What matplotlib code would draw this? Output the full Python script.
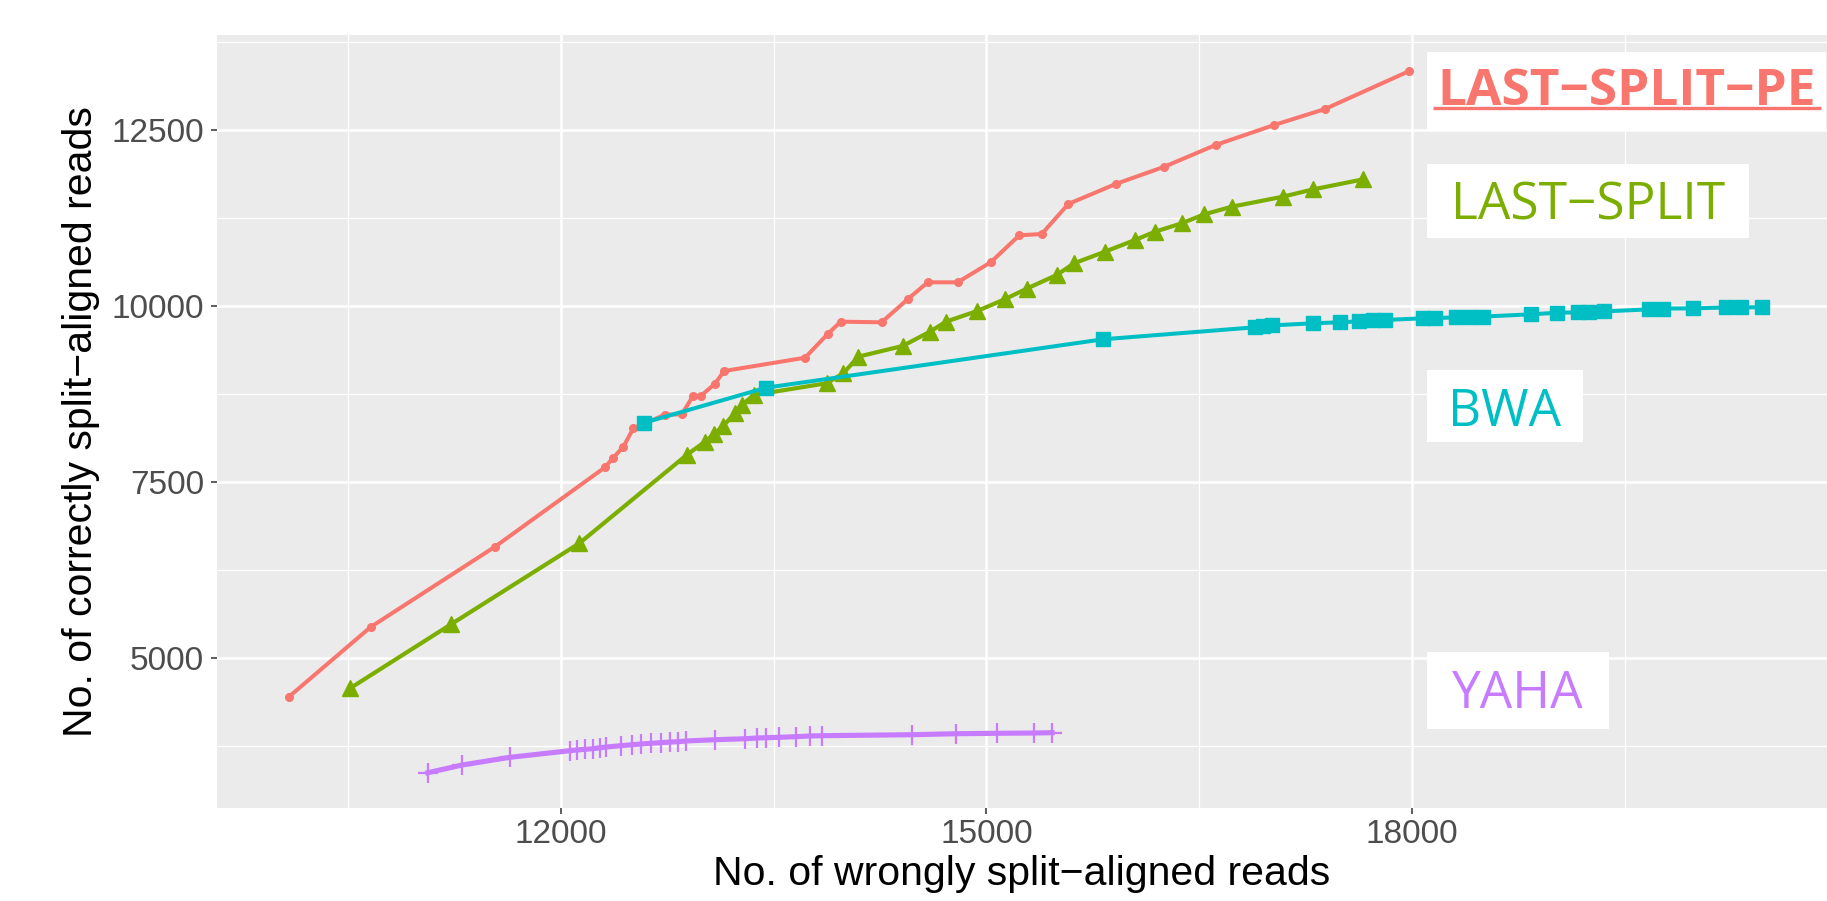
import matplotlib
matplotlib.use("Agg")
import matplotlib.pyplot as plt
from matplotlib.patches import Rectangle
from matplotlib.ticker import FixedLocator

# ---------------- data ----------------
pe_x = [10082, 10658, 11535, 12310, 12365, 12440, 12510, 12733, 12851, 12933, 12985,
        13086, 13150, 13721, 13881, 13972, 14261, 14449, 14586, 14797, 15030, 15232,
        15390, 15578, 15912, 16255, 16617, 17030, 17388, 17983]
pe_y = [4446, 5436, 6577, 7704, 7832, 7997, 8258, 8452, 8457, 8722, 8717,
        8892, 9072, 9261, 9598, 9773, 9764, 10099, 10332, 10332, 10616, 11000,
        11018, 11445, 11729, 11974, 12283, 12567, 12794, 13334]

ls_x = [10512, 11224, 12129, 12886, 13015, 13079, 13145, 13227, 13274, 13361, 13873,
        13991, 14097, 14410, 14602, 14715, 14936, 15131, 15284, 15496, 15618, 15836,
        16048, 16189, 16377, 16537, 16730, 17090, 17306, 17658]
ls_y = [4565, 5474, 6625, 7879, 8068, 8173, 8295, 8472, 8590, 8732, 8898,
        9040, 9276, 9428, 9631, 9773, 9925, 10093, 10242, 10436, 10602, 10767,
        10933, 11051, 11170, 11298, 11406, 11548, 11653, 11795]

bwa_x = [12587, 13446, 15824, 16894, 16953, 17012, 17306, 17494, 17630, 17729, 17811,
         18081, 18163, 18309, 18410, 18504, 18840, 19022, 19174, 19252, 19358, 19675,
         19774, 19986, 20214, 20321, 20467]
bwa_y = [8338, 8835, 9523, 9693, 9705, 9720, 9750, 9764, 9778, 9795, 9797,
         9821, 9823, 9835, 9840, 9846, 9877, 9900, 9905, 9917, 9919, 9948,
         9960, 9962, 9975, 9976, 9978]

yaha_x = [11060, 11304, 11640, 12063, 12111, 12171, 12228, 12275, 12317, 12421, 12499,
          12564, 12633, 12705, 12769, 12823, 12882, 13086, 13298, 13380, 13446, 13537,
          13655, 13756, 13838, 14476, 14786, 15077, 15336, 15463]
yaha_y = [3366, 3476, 3585, 3679, 3689, 3699, 3707, 3722, 3731, 3750, 3764,
          3774, 3784, 3793, 3802, 3807, 3817, 3835, 3849, 3859, 3864, 3869,
          3878, 3888, 3892, 3906, 3920, 3926, 3930, 3935]

x_ticks = [12000, 15000, 18000]
y_ticks = [5000, 7500, 10000, 12500]
x_minor = [10500, 13500, 16500, 19500]
y_minor = [3750, 6250, 8750, 11250, 13750]

labels = ["LAST\u2212SPLIT\u2212PE", "LAST\u2212SPLIT", "BWA", "YAHA"]
label_colors = ["#F8766D", "#7CAE00", "#00BFC4", "#C77CFF"]
# label boxes (data coords): left, right, bottom, top ; text baseline
box_left = 18107
box_right = [20921, 20378, 19207, 19391]
box_bottom = [12481, 10962, 8065, 3986]
box_top = [13603, 12013, 9087, 5080]
text_base = [12851, 11231, 8291, 4286]

# ---------------- figure ----------------
W, H = 1827, 901
fig = plt.figure(figsize=(W / 100, H / 100), dpi=100)
ax = fig.add_axes([217 / W, 1 - 808 / H, (W - 217) / W, (808 - 35) / H])
ax.set_facecolor("#EBEBEB")
for s in ax.spines.values():
    s.set_visible(False)

ax.set_xlim(9574, 20928)
ax.set_ylim(2865, 13845)

ax.xaxis.set_major_locator(FixedLocator(x_ticks))
ax.yaxis.set_major_locator(FixedLocator(y_ticks))
ax.xaxis.set_minor_locator(FixedLocator(x_minor))
ax.yaxis.set_minor_locator(FixedLocator(y_minor))
ax.grid(which="major", color="white", linewidth=1.8)
ax.grid(which="minor", color="white", linewidth=0.9)
ax.set_axisbelow(True)

ax.tick_params(which="major", length=4.3, width=1.1, color="#333333",
               labelsize=24, labelcolor="#4D4D4D")
ax.tick_params(axis="y", pad=5)
ax.tick_params(axis="x", pad=3.5)
ax.tick_params(which="minor", length=0)
for t in ax.get_xticklabels() + ax.get_yticklabels():
    t.set_fontfamily("Liberation Sans")

ax.plot(pe_x, pe_y, color="#F8766D", linewidth=2.9, marker="o", markersize=5.5,
        zorder=3)
ax.plot(ls_x, ls_y, color="#7CAE00", linewidth=3.0, marker="^", markersize=11.5,
        zorder=3)
ax.plot(bwa_x, bwa_y, color="#00BFC4", linewidth=2.9, marker="s", markersize=9.5,
        zorder=3)
ax.plot(yaha_x, yaha_y, color="#C77CFF", linewidth=3.7, marker="+", markersize=14,
        markeredgewidth=1.6, zorder=3)

for i, lab in enumerate(labels):
    ax.add_patch(Rectangle((box_left, box_bottom[i]), box_right[i] - box_left,
                           box_top[i] - box_bottom[i], facecolor="white",
                           edgecolor="none", zorder=4))
    cx = (box_left + box_right[i]) / 2
    ax.text(cx, text_base[i], lab, color=label_colors[i], fontsize=37,
            fontfamily=["Open Sans", "DejaVu Sans"],
            fontweight="bold" if i == 0 else "normal",
            ha="center", va="baseline", zorder=5)

# underline for the highlighted label
ax.plot([18148, 20886], [12815, 12815], color="#F8766D", linewidth=2.4,
        solid_capstyle="butt", zorder=5)

ax.set_xlabel("No. of wrongly split\u2212aligned reads", fontsize=29.5,
              fontfamily="Liberation Sans", color="black", labelpad=4)
ax.set_ylabel("No. of correctly split\u2212aligned reads", fontsize=29.5,
              fontfamily="Liberation Sans", color="black", labelpad=8)

fig.savefig("out.png", dpi=100)
